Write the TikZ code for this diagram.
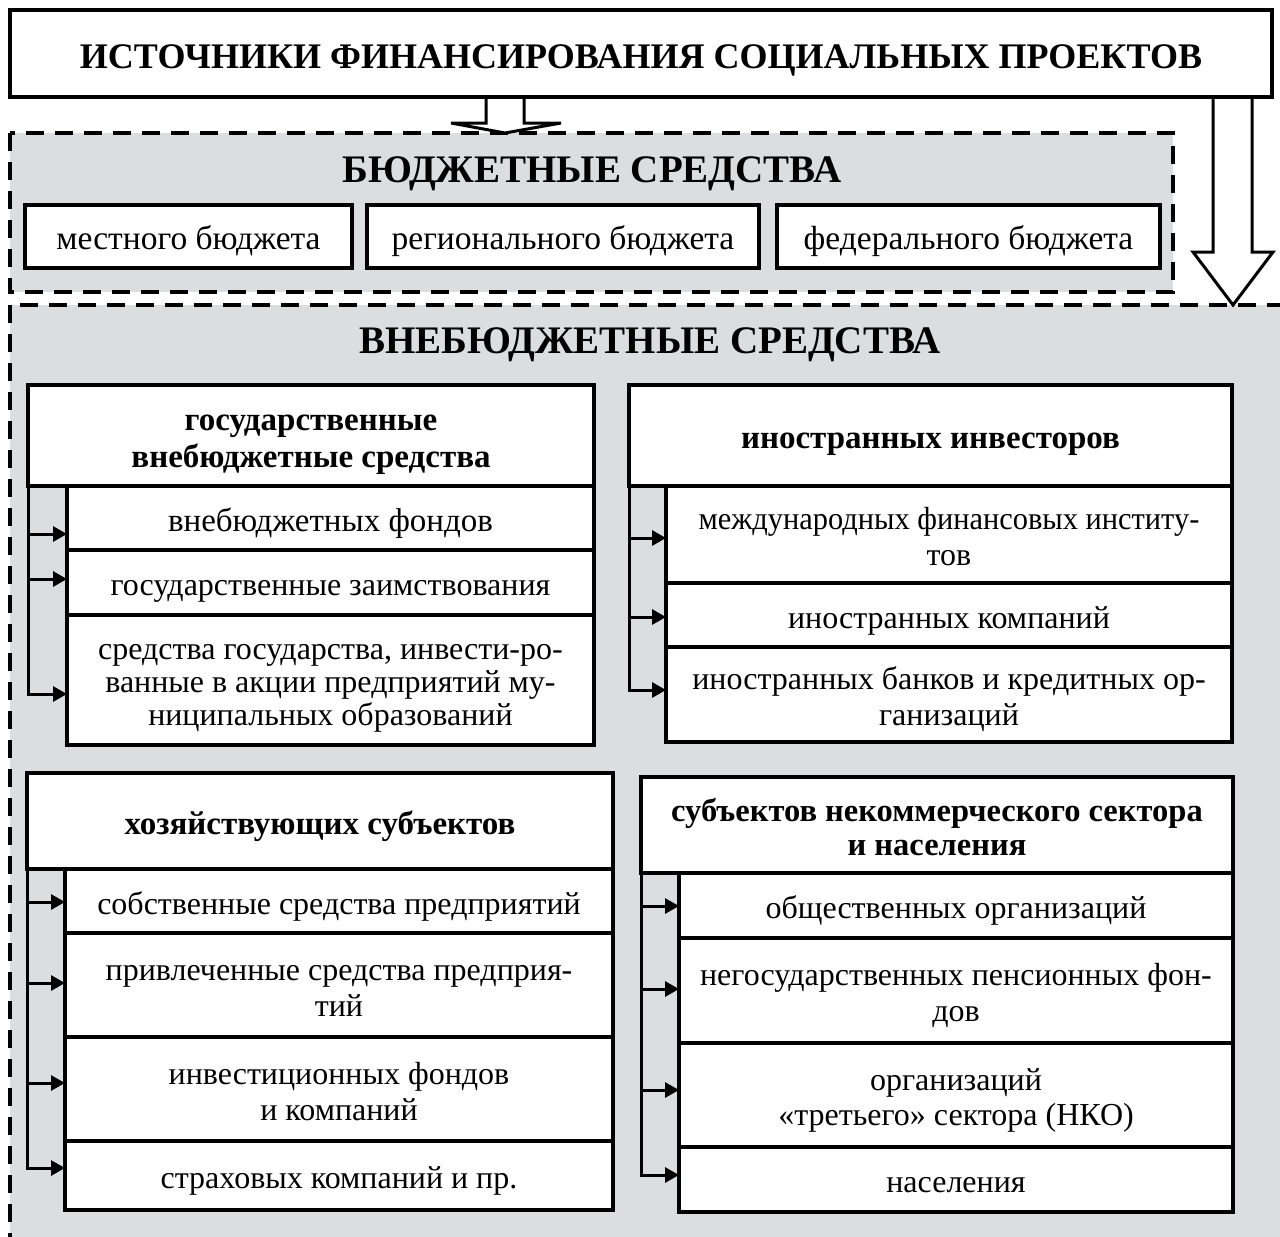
\documentclass[tikz,border=0pt]{standalone}
\usepackage{fontspec}
\setmainfont{Liberation Serif}
\usetikzlibrary{arrows.meta}
\definecolor{bgray}{RGB}{220,221,223}
\newcommand\tb[1]{\begin{tabular}{@{}c@{}}#1\end{tabular}}
\begin{document}
\begin{tikzpicture}[x=1pt,y=-1pt,
  boxst/.style={draw=black, line width=3.5pt, fill=white, inner sep=0pt, outer sep=0pt,
     font=\fontsize{32}{36}\selectfont, text height=25pt, text depth=0pt},
  budst/.style={boxst, font=\fontsize{33.5}{36}\selectfont},
  headst/.style={boxst, font=\fontsize{33}{36}\selectfont\bfseries},
  titlest/.style={inner sep=0pt, font=\fontsize{39}{42}\selectfont\bfseries, anchor=base},
  dashbox/.style={draw=black, line width=4pt, fill=bgray, dash pattern=on 18pt off 11pt},
  arr/.style={line width=3pt, -{Triangle[length=14pt,width=15pt]}},
  hollow/.style={draw=black, line width=3pt, fill=white, line join=miter}
]
\path[use as bounding box] (0,0) rectangle (1280,1237);
\clip (0,0) rectangle (1280,1237);

% outer areas
\draw[dashbox] (10,305) rectangle (1300,1262);
\draw[dashbox] (10,133) rectangle (1173,292);

% hollow arrows from the top box (drawn first, the box border covers their open ends)
\draw[hollow] (486,90) -- (486,123) -- (451,123) -- (505,133) -- (561,123) -- (524,123) -- (524,90);
\draw[hollow] (1213,90) -- (1213,252) -- (1193,252) -- (1233,305) -- (1273,252) -- (1252,252) -- (1252,90);

% top box
\node[boxst, minimum width=1262pt, minimum height=87pt, font=\fontsize{36}{40}\selectfont\bfseries,
      text height=29pt] (top) at (641,53.5)
  {ИСТОЧНИКИ ФИНАНСИРОВАНИЯ СОЦИАЛЬНЫХ ПРОЕКТОВ};

% budget
\node[titlest] (budtitle) at (592,182) {БЮДЖЕТНЫЕ СРЕДСТВА};
\node[budst, minimum width=327pt, minimum height=63pt] (m1) at (188.5,236.5) {\tb{местного бюджета}};
\node[budst, minimum width=392pt, minimum height=63pt] (m2) at (563,236.5) {\tb{регионального бюджета}};
\node[budst, minimum width=383pt, minimum height=63pt] (m3) at (968.5,236.5) {\tb{федерального бюджета}};

% extra-budget
\node[titlest] (extitle) at (650,353) {ВНЕБЮДЖЕТНЫЕ СРЕДСТВА};

% block 1
\node[headst, minimum width=566pt, minimum height=101pt, font=\fontsize{33}{37}\selectfont\bfseries] (h1) at (311,435.5)
  {\tb{государственные\\внебюджетные средства}};
\node[boxst, minimum width=527pt, minimum height=64pt, font=\fontsize{33}{36}\selectfont] (a1) at (330.5,518) {\tb{внебюджетных фондов}};
\node[boxst, minimum width=527pt, minimum height=65pt] (b1) at (330.5,582.5) {\tb{государственные заимствования}};
\node[boxst, minimum width=527pt, minimum height=130pt, font=\fontsize{32}{33}\selectfont] (c1) at (330.5,680)
  {\tb{средства государства, инвести-ро-\\ванные в акции предприятий му-\\ниципальных образований}};

% block 2
\node[headst, minimum width=603pt, minimum height=101pt] (h2) at (930.5,435.5) {\tb{иностранных инвесторов}};
\node[boxst, minimum width=566pt, minimum height=97pt] (a2) at (949,534.5)
  {\tb{\scalebox{0.95}[1]{международных финансовых институ-}\\тов}};
\node[boxst, minimum width=566pt, minimum height=64pt] (b2) at (949,615) {\tb{иностранных компаний}};
\node[boxst, minimum width=566pt, minimum height=95pt] (c2) at (949,694.5)
  {\tb{иностранных банков и кредитных ор-\\ганизаций}};

% block 3
\node[headst, minimum width=586pt, minimum height=96pt] (h3) at (320,821) {\tb{хозяйствующих субъектов}};
\node[boxst, minimum width=548pt, minimum height=64pt] (a3) at (339,901) {\tb{собственные средства предприятий}};
\node[boxst, minimum width=548pt, minimum height=104pt] (b3) at (339,985)
  {\tb{привлеченные средства предприя-\\тий}};
\node[boxst, minimum width=548pt, minimum height=104pt] (c3) at (339,1089)
  {\tb{инвестиционных фондов\\и компаний}};
\node[boxst, minimum width=548pt, minimum height=69pt] (d3) at (339,1175.5) {\tb{страховых компаний и пр.}};

% block 4
\node[headst, minimum width=592pt, minimum height=96pt, font=\fontsize{32.5}{34}\selectfont\bfseries] (h4) at (937,825)
  {\tb{субъектов некоммерческого сектора\\и населения}};
\node[boxst, minimum width=554pt, minimum height=65pt] (a4) at (956,905.5) {\tb{общественных организаций}};
\node[boxst, minimum width=554pt, minimum height=105pt] (b4) at (956,990.5)
  {\tb{негосударственных пенсионных фон-\\дов}};
\node[boxst, minimum width=554pt, minimum height=104pt, font=\fontsize{32}{35}\selectfont] (c4) at (956,1095)
  {\tb{организаций\\«третьего» сектора (НКО)}};
\node[boxst, minimum width=554pt, minimum height=65pt] (d4) at (956,1179.5) {\tb{населения}};

% brackets block 1
\draw[arr] (h1.south west |- 0,534) -- (a1.west |- 0,534);
\draw[arr] (h1.south west |- 0,579) -- (b1.west |- 0,579);
\draw[arr] (h1.south west) |- (c1.west |- 0,694);

% brackets block 2
\draw[arr] (h2.south west |- 0,538) -- (a2.west |- 0,538);
\draw[arr] (h2.south west |- 0,617) -- (b2.west |- 0,617);
\draw[arr] (h2.south west) |- (c2.west |- 0,690);

% brackets block 3
\draw[arr] (h3.south west |- 0,902) -- (a3.west |- 0,902);
\draw[arr] (h3.south west |- 0,983) -- (b3.west |- 0,983);
\draw[arr] (h3.south west |- 0,1083) -- (c3.west |- 0,1083);
\draw[arr] (h3.south west) |- (d3.west |- 0,1168);

% brackets block 4
\draw[arr] (h4.south west |- 0,906) -- (a4.west |- 0,906);
\draw[arr] (h4.south west |- 0,989) -- (b4.west |- 0,989);
\draw[arr] (h4.south west |- 0,1090) -- (c4.west |- 0,1090);
\draw[arr] (h4.south west) |- (d4.west |- 0,1175);
\end{tikzpicture}
\end{document}
